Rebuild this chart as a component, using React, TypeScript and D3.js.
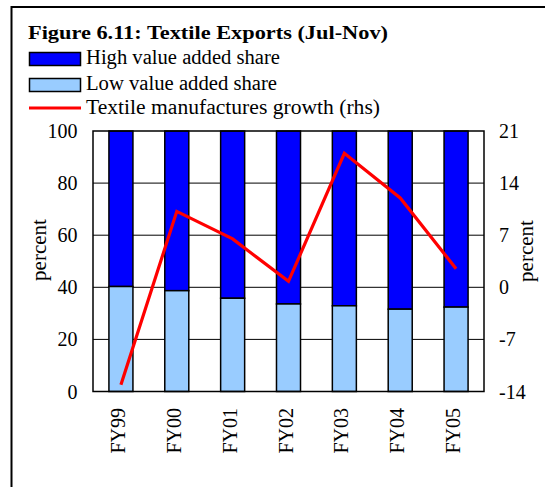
import React from "react";
import * as d3 from "d3";

const categories = ["FY99", "FY00", "FY01", "FY02", "FY03", "FY04", "FY05"];
const lowShare = [40.3, 38.7, 35.8, 33.6, 32.9, 31.6, 32.4];
const growth = [-13.1, 10.2, 6.5, 0.8, 18.0, 12.0, 2.5];
const leftTicks = [0, 20, 40, 60, 80, 100];
const rightTicks = [-14, -7, 0, 7, 14, 21];

const W = 545;
const H = 487;
const plot = { left: 93, right: 484, top: 131, bottom: 391.5 };
const font = "'Liberation Serif', 'Times New Roman', serif";

export default function App() {
  const x = d3
    .scaleBand<string>()
    .domain(categories)
    .range([plot.left, plot.right])
    .paddingInner(0.57)
    .paddingOuter(0.285);
  const yL = d3.scaleLinear().domain([0, 100]).range([plot.bottom, plot.top]);
  const yR = d3.scaleLinear().domain([-14, 21]).range([plot.bottom, plot.top]);
  const center = (c: string) => (x(c) as number) + x.bandwidth() / 2;
  const line = d3
    .line<number>()
    .x((_, i) => center(categories[i]))
    .y((d) => yR(d));

  return (
    <svg
      width={W}
      height={H}
      style={{ position: "absolute", left: 0, top: 0, display: "block", background: "#fff" }}
      fontFamily={font}
    >
      <rect x={0} y={0} width={W} height={H} fill="#fff" />
      {/* outer frame */}
      <rect x={11.5} y={7} width={W + 20} height={H + 20} fill="none" stroke="#000" strokeWidth={2} />

      {/* title */}
      <text x={28} y={39} fontSize={19} fontWeight="bold" textLength={360} lengthAdjust="spacingAndGlyphs">
        Figure 6.11: Textile Exports (Jul-Nov)
      </text>

      {/* legend */}
      <rect x={29.5} y={52.5} width={51} height={13} fill="#0000FF" stroke="#000" strokeWidth={1.5} />
      <text x={86} y={63.5} fontSize={20} textLength={194} lengthAdjust="spacingAndGlyphs">
        High value added share
      </text>
      <rect x={29.5} y={78.5} width={51} height={13} fill="#99CCFF" stroke="#000" strokeWidth={1.5} />
      <text x={86} y={89.5} fontSize={20} textLength={191} lengthAdjust="spacingAndGlyphs">
        Low value added share
      </text>
      <line x1={29} x2={81} y1={108} y2={108} stroke="#FF0000" strokeWidth={3} />
      <text x={86} y={114} fontSize={20} textLength={294} lengthAdjust="spacingAndGlyphs">
        Textile manufactures growth (rhs)
      </text>

      {/* gridlines */}
      {leftTicks
        .filter((t) => t !== 0 && t !== 100)
        .map((t) => (
          <line key={t} x1={plot.left} x2={plot.right} y1={yL(t)} y2={yL(t)} stroke="#000" strokeWidth={1} />
        ))}

      {/* bars */}
      {categories.map((c, i) => (
        <g key={c}>
          <rect
            x={x(c)}
            y={yL(100)}
            width={x.bandwidth()}
            height={yL(lowShare[i]) - yL(100)}
            fill="#0000FF"
            stroke="#000"
            strokeWidth={1.5}
          />
          <rect
            x={x(c)}
            y={yL(lowShare[i])}
            width={x.bandwidth()}
            height={yL(0) - yL(lowShare[i])}
            fill="#99CCFF"
            stroke="#000"
            strokeWidth={1.5}
          />
        </g>
      ))}

      {/* plot border */}
      <rect
        x={plot.left}
        y={plot.top}
        width={plot.right - plot.left}
        height={plot.bottom - plot.top}
        fill="none"
        stroke="#000"
        strokeWidth={1.5}
      />

      {/* growth line */}
      <path d={line(growth) || ""} fill="none" stroke="#FF0000" strokeWidth={3.2} strokeLinejoin="miter" />

      {/* left axis labels */}
      {leftTicks.map((t) => (
        <text key={t} x={77.5} y={yL(t)} dy="0.35em" fontSize={20} textAnchor="end">
          {t}
        </text>
      ))}
      {/* right axis labels */}
      {rightTicks.map((t) => (
        <text key={t} x={499} y={yR(t)} dy="0.35em" fontSize={20} textAnchor="start">
          {t}
        </text>
      ))}

      {/* axis titles */}
      <text transform="translate(46,250) rotate(-90)" fontSize={21} textAnchor="middle">
        percent
      </text>
      <text transform="translate(533,251) rotate(-90)" fontSize={21} textAnchor="middle">
        percent
      </text>

      {/* x labels */}
      {categories.map((c) => (
        <text
          key={c}
          transform={`translate(${center(c) + 4},408) rotate(-90)`}
          fontSize={20}
          textAnchor="end"
        >
          {c}
        </text>
      ))}
    </svg>
  );
}
